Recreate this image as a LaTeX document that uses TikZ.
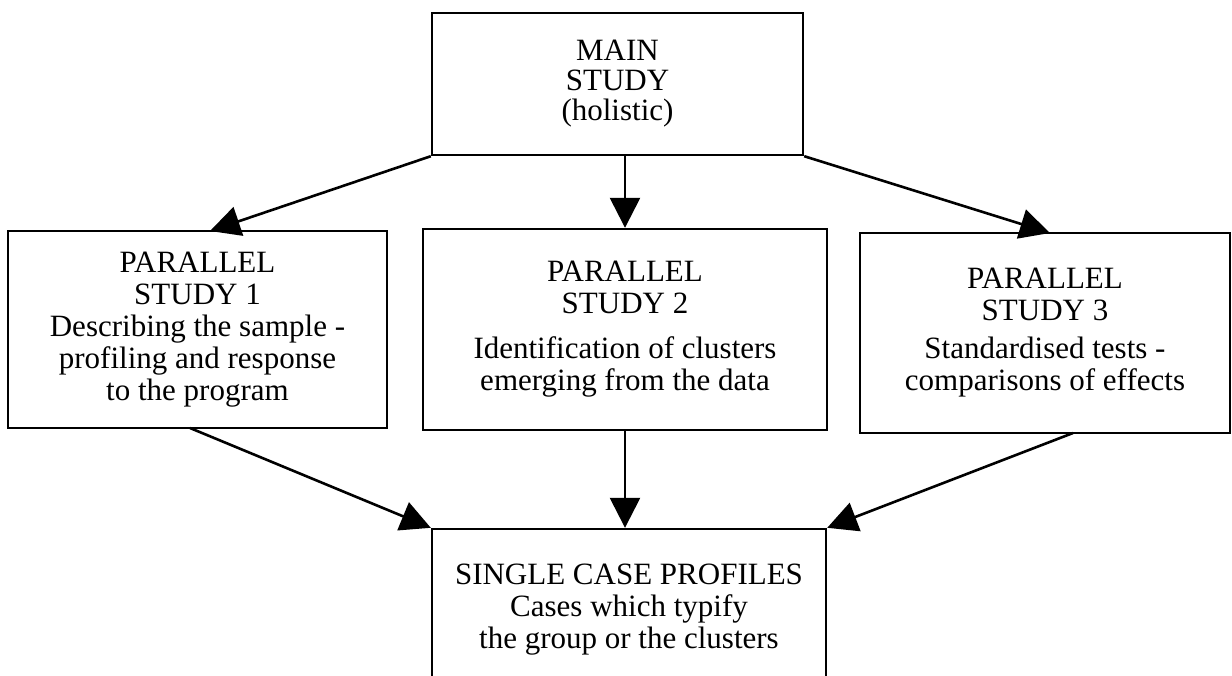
\documentclass[tikz,border=0pt]{standalone}
\usepackage{fontspec}
\setmainfont{Liberation Serif}
\usetikzlibrary{arrows.meta}
\begin{document}
\begin{tikzpicture}[x=0.5pt,y=-0.5pt,
  box/.style={draw,line width=1.2pt,rectangle,align=center,inner sep=0pt,
    font=\fontsize{15.5}{16}\selectfont},
  conn/.style={line width=1.3pt,-{Triangle[length=15pt,width=15pt]}}]
\clip (0,0) rectangle (1232,675);
\useasboundingbox (0,0) rectangle (1232,675);
\node[box,minimum width=185.5pt,minimum height=71pt,font=\fontsize{15.5}{15}\selectfont] (main) at (617.5,84)
  {MAIN\\STUDY\\(holistic)};
\node[box,minimum width=189.5pt,minimum height=98.5pt] (p1) at (197.5,329.5)
  {PARALLEL\\STUDY 1\\Describing the sample -\\profiling and response\\to the program};
\node[box,minimum width=202pt,minimum height=100.5pt] (p2) at (625,329.5)
  {PARALLEL\\STUDY 2\\[6.5pt]Identification of clusters\\emerging from the data};
\node[box,minimum width=185pt,minimum height=100pt] (p3) at (1045,333)
  {PARALLEL\\STUDY 3\\[3pt]Standardised tests -\\comparisons of effects};
\node[box,minimum width=197pt,minimum height=81pt] (s) at (629,610)
  {SINGLE CASE PROFILES\\Cases which typify\\the group or the clusters};
\coordinate (t1) at (210,231);
\coordinate (t3) at (1050,233);
\coordinate (f1) at (190,428);
\coordinate (f3) at (1073,433);
\draw[conn] (main.south west) -- (t1);
\draw[conn] (main.south -| p2.north) -- (p2.north);
\draw[conn] (main.south east) -- (t3);
\draw[conn] (f1) -- (s.north west);
\draw[conn] (p2.south) -- (p2.south |- s.north);
\draw[conn] (f3) -- (s.north east);
\end{tikzpicture}
\end{document}
